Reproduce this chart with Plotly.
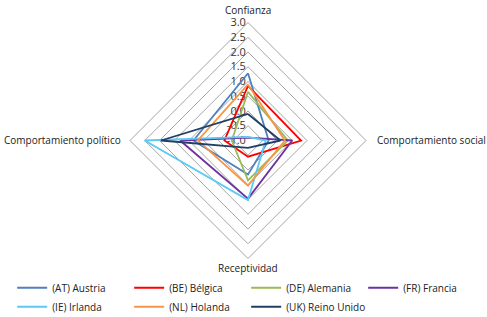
import plotly.graph_objects as go

categories = ["Confianza", "Comportamiento social", "Receptividad", "Comportamiento político"]
series_names = ["(AT) Austria", "(BE) Bélgica", "(DE) Alemania", "(FR) Francia",
                "(IE) Irlanda", "(NL) Holanda", "(UK) Reino Unido"]
at_vals = [1.28, -0.3, 0.15, 0.85]
be_vals = [0.85, 0.8, -0.45, -0.2]
de_vals = [0.65, 0.35, 0.35, -0.45]
fr_vals = [-0.9, 0.5, 0.97, 1.3]
ie_vals = [-0.88, -0.4, 1.02, 2.5]
nl_vals = [0.9, 0.25, 0.53, 0.7]
uk_vals = [-0.1, 0.1, -0.75, 1.95]
tick_vals = [-1.0, -0.5, 0.0, 0.5, 1.0, 1.5, 2.0, 2.5, 3.0]

all_vals = [at_vals, be_vals, de_vals, fr_vals, ie_vals, nl_vals, uk_vals]
colors = ["#4F81BD", "#FF0000", "#9BBB59", "#7030A0", "#5BC8F5", "#F79646", "#1F3F66"]

fig = go.Figure()
for name, vals, col in zip(series_names, all_vals, colors):
    fig.add_trace(go.Scatterpolar(
        r=vals + vals[:1], theta=categories + categories[:1],
        mode="lines", name=name, line=dict(color=col, width=1.8),
    ))

lab_font = dict(size=10, color="#222")
fig.update_layout(
    width=487, height=317,
    margin=dict(l=0, r=0, t=0, b=0, autoexpand=False),
    paper_bgcolor="white",
    font=dict(family="Open Sans", size=10, color="#333333"),
    polar=dict(
        domain=dict(x=[130/487, 366/487], y=[(317-258.5)/317, (317-22.5)/317]),
        gridshape="linear",
        bgcolor="white",
        angularaxis=dict(rotation=90, direction="clockwise", showgrid=False,
                         showline=True, linecolor="#A6A6A6", linewidth=1,
                         ticks="", showticklabels=False, layer="below traces"),
        radialaxis=dict(range=[-1, 3], tickvals=tick_vals,
                        ticktext=["%.1f" % v for v in tick_vals],
                        ticksuffix="\u00a0\u00a0\u00a0\u00a0\u00a0\u00a0",
                        angle=90, tickangle=90, side="counterclockwise",
                        showline=False, ticks="", layer="below traces",
                        gridcolor="#A6A6A6", gridwidth=1,
                        tickfont=dict(size=11, color="#333")),
    ),
    legend=dict(orientation="h", x=0.025, y=0.138, xanchor="left", yanchor="top",
                entrywidth=72, tracegroupgap=0, itemwidth=30,
                font=dict(size=10, color="#222")),
    annotations=[
        dict(text=categories[0], x=248/487, y=(317-10)/317, xref="paper", yref="paper",
             xanchor="center", yanchor="middle", showarrow=False, font=lab_font),
        dict(text=categories[1], x=375/487, y=(317-140)/317, xref="paper", yref="paper",
             xanchor="left", yanchor="middle", showarrow=False, font=lab_font),
        dict(text=categories[2], x=248/487, y=(317-268)/317, xref="paper", yref="paper",
             xanchor="center", yanchor="middle", showarrow=False, font=lab_font),
        dict(text=categories[3], x=123/487, y=(317-140)/317, xref="paper", yref="paper",
             xanchor="right", yanchor="middle", showarrow=False, font=lab_font),
    ],
)
fig.write_html("out.html", config={"displayModeBar": False},
               post_script="document.body.style.margin='0';")
